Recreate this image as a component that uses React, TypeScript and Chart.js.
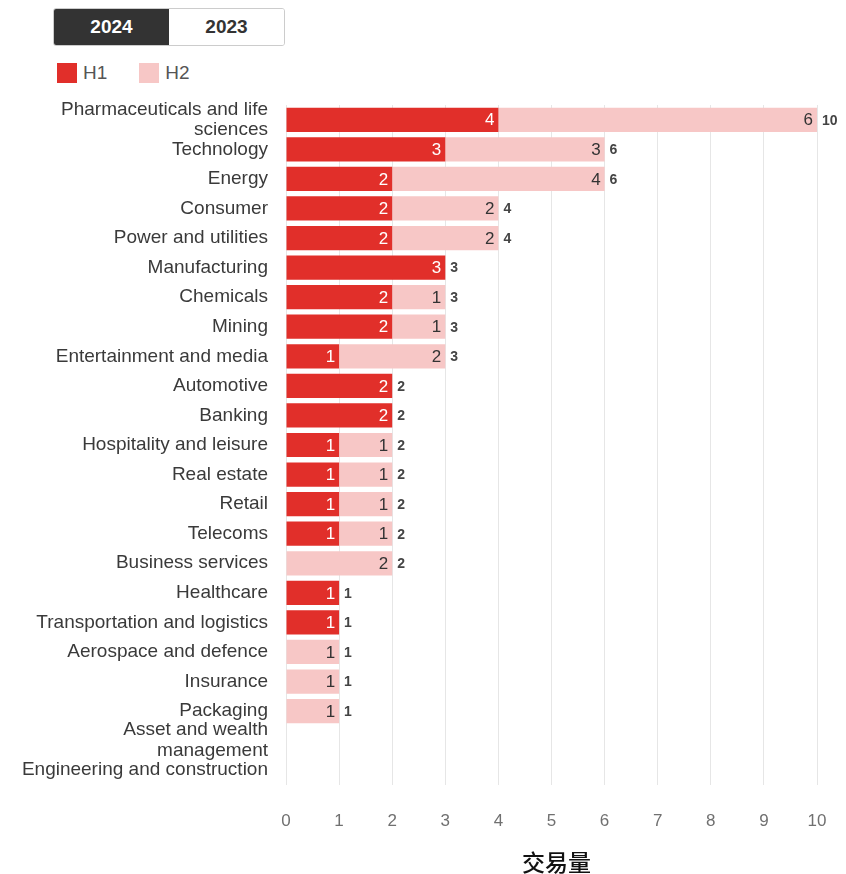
import React, { useEffect, useRef } from "react";
import { Chart, registerables } from "chart.js";

Chart.register(...registerables);

const categories: (string | string[])[] = [
  ["Pharmaceuticals and life", "sciences"],
  "Technology",
  "Energy",
  "Consumer",
  "Power and utilities",
  "Manufacturing",
  "Chemicals",
  "Mining",
  "Entertainment and media",
  "Automotive",
  "Banking",
  "Hospitality and leisure",
  "Real estate",
  "Retail",
  "Telecoms",
  "Business services",
  "Healthcare",
  "Transportation and logistics",
  "Aerospace and defence",
  "Insurance",
  "Packaging",
  ["Asset and wealth", "management"],
  "Engineering and construction",
];

const h1Values = [4, 3, 2, 2, 2, 3, 2, 2, 1, 2, 2, 1, 1, 1, 1, 0, 1, 1, 0, 0, 0, 0, 0];
const h2Values = [6, 3, 4, 2, 2, 0, 1, 1, 2, 0, 0, 1, 1, 1, 1, 2, 0, 0, 1, 1, 1, 0, 0];

const seriesNames = ["H1", "H2"];
const yearButtons = ["2024", "2023"];
const axisTitle = "交易量";

const RED = "#e12f2a";
const PINK = "#f7c7c6";
const FONT = "'Liberation Sans', Arial, Helvetica, sans-serif";

const labelPlugin = {
  id: "barLabels",
  afterDatasetsDraw(chart: any) {
    const ctx = chart.ctx;
    ctx.save();
    ctx.textBaseline = "middle";
    chart.data.datasets.forEach((ds: any, di: number) => {
      const meta = chart.getDatasetMeta(di);
      meta.data.forEach((el: any, i: number) => {
        const v = ds.data[i];
        if (!v) return;
        ctx.font = `17px ${FONT}`;
        ctx.textAlign = "right";
        ctx.fillStyle = di === 0 ? "#ffffff" : "#333333";
        ctx.fillText(String(v), el.x - 4, el.y + 1);
      });
    });
    const xScale = chart.scales.x;
    const meta1 = chart.getDatasetMeta(1);
    h1Values.forEach((a, i) => {
      const total = a + h2Values[i];
      if (!total) return;
      const x = xScale.getPixelForValue(total);
      const y = meta1.data[i].y;
      ctx.font = `bold 14px ${FONT}`;
      ctx.textAlign = "left";
      ctx.fillStyle = "#444444";
      ctx.fillText(String(total), x + 5, y + 1);
    });
    // axis title
    const area = chart.chartArea;
    ctx.font = `500 23px 'Noto Sans CJK SC', sans-serif`;
    ctx.textAlign = "center";
    ctx.fillStyle = "#111111";
    ctx.fillText(axisTitle, (area.left + area.right) / 2 + 5, chart.height - 12);
    ctx.restore();
  },
};

export default function App() {
  const canvasRef = useRef<HTMLCanvasElement | null>(null);

  useEffect(() => {
    document.body.style.margin = "0";
    const canvas = canvasRef.current;
    if (!canvas) return;
    const chart = new Chart(canvas, {
      type: "bar",
      data: {
        labels: categories,
        datasets: [
          {
            label: seriesNames[0],
            data: h1Values,
            backgroundColor: RED,
            borderWidth: 0,
            barPercentage: 0.82,
            categoryPercentage: 1,
          },
          {
            label: seriesNames[1],
            data: h2Values,
            backgroundColor: PINK,
            borderWidth: 0,
            barPercentage: 0.82,
            categoryPercentage: 1,
          },
        ],
      },
      options: {
        indexAxis: "y",
        animation: false,
        responsive: true,
        maintainAspectRatio: false,
        layout: { padding: { top: 15, right: 29, bottom: 0, left: 0 } },
        plugins: {
          legend: { display: false },
          tooltip: { enabled: false },
        },
        scales: {
          x: {
            stacked: true,
            min: 0,
            max: 10,
            afterFit: (s: any) => {
              s.height = 89;
              s.paddingLeft = 0;
              s.paddingRight = 0;
            },
            ticks: {
              stepSize: 1,
              color: "#707070",
              padding: 26,
              font: { family: FONT, size: 17 },
            },
            grid: { color: "#e6e6e6", drawTicks: false },
            border: { display: false },
            title: { display: false },
          },
          y: {
            stacked: true,
            afterFit: (s: any) => {
              s.width = 286;
              s.paddingTop = 0;
              s.paddingBottom = 0;
            },
            ticks: {
              color: "#3a3a3a",
              padding: 18,
              autoSkip: false,
              font: { family: FONT, size: 19, lineHeight: 1.1 },
            },
            grid: { display: false, drawTicks: false },
            border: { display: false },
          },
        },
      },
      plugins: [labelPlugin],
    });
    return () => chart.destroy();
  }, []);

  return (
    <div style={{ position: "relative", width: 846, height: 874, fontFamily: FONT }}>
      <div
        style={{
          position: "absolute",
          left: 53,
          top: 8,
          width: 232,
          height: 38,
          display: "flex",
          border: "1px solid #cccccc",
          borderRadius: 3,
          overflow: "hidden",
          boxSizing: "border-box",
        }}
      >
        {yearButtons.map((y, i) => (
          <div
            key={y}
            style={{
              flex: 1,
              display: "flex",
              alignItems: "center",
              justifyContent: "center",
              background: i === 0 ? "#333333" : "#ffffff",
              color: i === 0 ? "#ffffff" : "#333333",
              fontWeight: "bold",
              fontSize: 19,
            }}
          >
            {y}
          </div>
        ))}
      </div>
      <div
        style={{
          position: "absolute",
          left: 57,
          top: 62,
          display: "flex",
          alignItems: "center",
          fontSize: 19,
          color: "#555555",
        }}
      >
        {seriesNames.map((n, i) => (
          <div key={n} style={{ display: "flex", alignItems: "center", marginRight: 32 }}>
            <span
              style={{
                display: "inline-block",
                width: 20,
                height: 20,
                background: i === 0 ? RED : PINK,
                marginRight: 6,
              }}
            />
            <span>{n}</span>
          </div>
        ))}
      </div>
      <div style={{ position: "absolute", left: 0, top: 90, width: 846, height: 784 }}>
        <canvas ref={canvasRef} />
      </div>
    </div>
  );
}
